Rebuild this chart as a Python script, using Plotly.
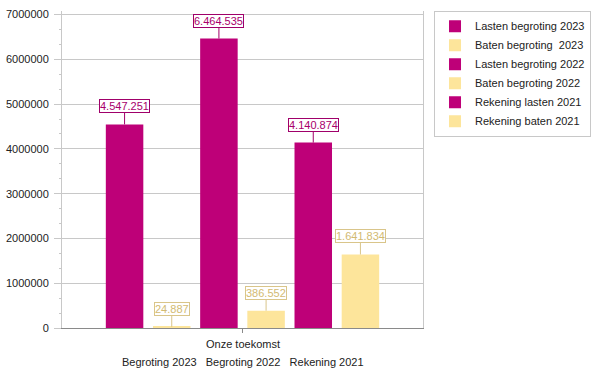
import plotly.graph_objects as go

category = ["Onze toekomst"]
group_labels = ["Begroting 2023", "Begroting 2022", "Rekening 2021"]
series_names = [
    "Lasten begroting 2023",
    "Baten begroting\u00a0 2023",
    "Lasten begroting 2022",
    "Baten begroting 2022",
    "Rekening lasten 2021",
    "Rekening baten 2021",
]
series_values = [4547251, 24887, 6464535, 386552, 4140874, 1641834]
series_kind = ["lasten", "baten", "lasten", "baten", "lasten", "baten"]
y_tick_values = [0, 1000000, 2000000, 3000000, 4000000, 5000000, 6000000, 7000000]

FONT = "Liberation Sans, Arial, sans-serif"
BAR_COLOR = {"lasten": "#BE0078", "baten": "#FDE59B"}
LABEL_TEXT = {"lasten": "#A8006C", "baten": "#D2BA72"}
LABEL_BORDER = {"lasten": "#A0006A", "baten": "#D9C58A"}

BARGAP = 0.216
BARGROUPGAP = 0.205

fig = go.Figure()
for name, val, kind in zip(series_names, series_values, series_kind):
    fig.add_trace(go.Bar(
        x=category, y=[val], name=name,
        xaxis="x2", yaxis="y",
        marker=dict(color=BAR_COLOR[kind], line=dict(width=0)),
        hoverinfo="skip",
    ))

# data labels
n = len(series_values)
slot = (1 - BARGAP) / n
annotations = []
for i, (val, kind) in enumerate(zip(series_values, series_kind)):
    annotations.append(dict(
        x=(i - (n - 1) / 2) * slot, y=val, xref="x2", yref="y",
        text=f"{val:,}".replace(",", "."),
        showarrow=True, arrowhead=0, arrowwidth=1, arrowcolor=LABEL_BORDER[kind],
        ax=0, ay=-18, standoff=0,
        bgcolor="white", bordercolor=LABEL_BORDER[kind], borderwidth=1, borderpad=0,
        font=dict(family=FONT, size=11, color=LABEL_TEXT[kind]),
    ))

# category labels
annotations.append(dict(
    x=0, y=0, xref="x2", yref="paper", yanchor="middle", yshift=-16,
    text=category[0], showarrow=False,
    font=dict(family=FONT, size=11, color="#222222"),
))
annotations.append(dict(
    x=0, y=0, xref="x2", yref="paper", yanchor="middle", yshift=-34,
    text="\u00a0\u00a0 ".join(group_labels), showarrow=False,
    font=dict(family=FONT, size=11, color="#222222"),
))

fig.update_layout(
    width=602, height=374,
    margin=dict(l=62, r=179, t=11, b=46, autoexpand=False),
    paper_bgcolor="white", plot_bgcolor="white",
    barmode="group", bargap=BARGAP, bargroupgap=BARGROUPGAP,
    separators=",.",
    font=dict(family=FONT, size=11, color="#222222"),
    showlegend=True,
    legend=dict(
        x=1.0305, y=1.001, xanchor="left", yanchor="top",
        bgcolor="white", bordercolor="#C8C8C8", borderwidth=1,
        font=dict(family=FONT, size=11, color="#222222"),
        traceorder="normal",
    ),
    xaxis=dict(
        type="linear", range=[-0.5, 0.5], automargin=False,
        tickmode="array", tickvals=[-0.4, -0.2, 0.2, 0.4],
        showgrid=True, gridcolor="#C8C8C8", gridwidth=1,
        ticks="outside", ticklen=4, tickcolor="#8A8A8A",
        showticklabels=False, zeroline=False,
        showline=True, mirror=True, linecolor="#C8C8C8", linewidth=1,
        fixedrange=True,
    ),
    xaxis2=dict(
        type="category", overlaying="x", range=[-0.5, 0.5], automargin=False,
        showgrid=False, ticks="outside", ticklen=4, tickcolor="#8A8A8A",
        showticklabels=False, zeroline=False,
        showline=True, linecolor="#8A8A8A", linewidth=1,
        fixedrange=True,
    ),
    yaxis=dict(
        range=[0, 7.08e6], automargin=False,
        tickmode="array", tickvals=y_tick_values, tickformat="d",
        showgrid=True, gridcolor="#C8C8C8", gridwidth=1,
        ticks="outside", ticklen=7, tickcolor="#C8C8C8",
        ticklabelstandoff=3,
        minor=dict(dtick=1000000 / 3, ticks="outside", ticklen=2,
                   tickcolor="#C8C8C8", showgrid=False),
        zeroline=False,
        showline=True, mirror=True, linecolor="#C8C8C8", linewidth=1,
        tickfont=dict(family=FONT, size=11, color="#222222"),
        fixedrange=True,
    ),
    annotations=annotations,
)

fig.write_html(
    "out.html",
    config={"displayModeBar": False},
    post_script="document.body.style.margin='0';document.body.style.padding='0';",
)
